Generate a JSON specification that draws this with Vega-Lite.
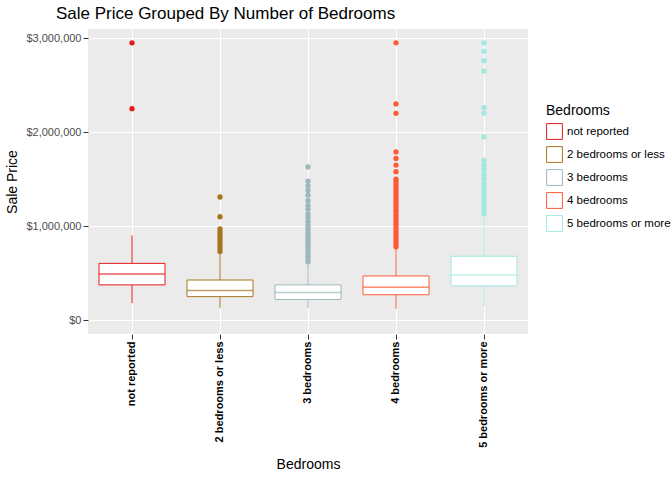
{
"$schema":"https://vega.github.io/schema/vega-lite/v6.json",
"width":440,"height":305,
"padding":{"left":5,"top":5,"right":5,"bottom":5},
"background":"white",
"title":{"text":"Sale Price Grouped By Number of Bedrooms","font":"Liberation Sans","fontSize":17,"fontWeight":"normal","anchor":"start","color":"black","offset":6,"dx":50},
"config":{"view":{"fill":"#EBEBEB","stroke":null},"font":"Liberation Sans",
"axis":{"gridColor":"white","domain":false,"tickColor":"#333333","labelColor":"#4D4D4D","titleFontWeight":"normal","titleFontSize":14,"labelFontSize":11},
"legend":{"titleFontWeight":"normal","titleFontSize":14,"labelFontSize":12,"labelLimit":300}},
"datasets":{
"box":[
{"b":"not reported","lo":180000,"q1":375000,"med":490000,"q3":604000,"hi":900000},
{"b":"2 bedrooms or less","lo":130000,"q1":250000,"med":315000,"q3":427000,"hi":700000},
{"b":"3 bedrooms","lo":130000,"q1":220000,"med":295000,"q3":375000,"hi":600000},
{"b":"4 bedrooms","lo":120000,"q1":270000,"med":350000,"q3":470000,"hi":760000},
{"b":"5 bedrooms or more","lo":150000,"q1":365000,"med":480000,"q3":680000,"hi":1100000}],
"out":[
{"b":"not reported","v":2950000},{"b":"not reported","v":2250000},
{"b":"2 bedrooms or less","v":730000},{"b":"2 bedrooms or less","v":760000},{"b":"2 bedrooms or less","v":790000},{"b":"2 bedrooms or less","v":820000},{"b":"2 bedrooms or less","v":850000},{"b":"2 bedrooms or less","v":880000},{"b":"2 bedrooms or less","v":910000},{"b":"2 bedrooms or less","v":940000},{"b":"2 bedrooms or less","v":970000},{"b":"2 bedrooms or less","v":1100000},{"b":"2 bedrooms or less","v":1310000},
{"b":"3 bedrooms","v":620000},{"b":"3 bedrooms","v":650000},{"b":"3 bedrooms","v":680000},{"b":"3 bedrooms","v":710000},{"b":"3 bedrooms","v":740000},{"b":"3 bedrooms","v":770000},{"b":"3 bedrooms","v":800000},{"b":"3 bedrooms","v":830000},{"b":"3 bedrooms","v":860000},{"b":"3 bedrooms","v":890000},{"b":"3 bedrooms","v":920000},{"b":"3 bedrooms","v":950000},{"b":"3 bedrooms","v":980000},{"b":"3 bedrooms","v":1010000},{"b":"3 bedrooms","v":1050000},{"b":"3 bedrooms","v":1090000},{"b":"3 bedrooms","v":1130000},{"b":"3 bedrooms","v":1180000},{"b":"3 bedrooms","v":1220000},{"b":"3 bedrooms","v":1270000},{"b":"3 bedrooms","v":1330000},{"b":"3 bedrooms","v":1380000},{"b":"3 bedrooms","v":1430000},{"b":"3 bedrooms","v":1480000},{"b":"3 bedrooms","v":1630000},
{"b":"4 bedrooms","v":780000},{"b":"4 bedrooms","v":810000},{"b":"4 bedrooms","v":840000},{"b":"4 bedrooms","v":870000},{"b":"4 bedrooms","v":900000},{"b":"4 bedrooms","v":930000},{"b":"4 bedrooms","v":960000},{"b":"4 bedrooms","v":990000},{"b":"4 bedrooms","v":1020000},{"b":"4 bedrooms","v":1050000},{"b":"4 bedrooms","v":1080000},{"b":"4 bedrooms","v":1110000},{"b":"4 bedrooms","v":1140000},{"b":"4 bedrooms","v":1170000},{"b":"4 bedrooms","v":1200000},{"b":"4 bedrooms","v":1230000},{"b":"4 bedrooms","v":1260000},{"b":"4 bedrooms","v":1290000},{"b":"4 bedrooms","v":1320000},{"b":"4 bedrooms","v":1350000},{"b":"4 bedrooms","v":1380000},{"b":"4 bedrooms","v":1410000},{"b":"4 bedrooms","v":1440000},{"b":"4 bedrooms","v":1470000},{"b":"4 bedrooms","v":1500000},{"b":"4 bedrooms","v":1580000},{"b":"4 bedrooms","v":1650000},{"b":"4 bedrooms","v":1720000},{"b":"4 bedrooms","v":1790000},{"b":"4 bedrooms","v":2200000},{"b":"4 bedrooms","v":2300000},{"b":"4 bedrooms","v":2950000},
{"b":"5 bedrooms or more","v":1130000},{"b":"5 bedrooms or more","v":1170000},{"b":"5 bedrooms or more","v":1210000},{"b":"5 bedrooms or more","v":1250000},{"b":"5 bedrooms or more","v":1290000},{"b":"5 bedrooms or more","v":1330000},{"b":"5 bedrooms or more","v":1370000},{"b":"5 bedrooms or more","v":1410000},{"b":"5 bedrooms or more","v":1450000},{"b":"5 bedrooms or more","v":1500000},{"b":"5 bedrooms or more","v":1550000},{"b":"5 bedrooms or more","v":1600000},{"b":"5 bedrooms or more","v":1650000},{"b":"5 bedrooms or more","v":1700000},{"b":"5 bedrooms or more","v":1950000},{"b":"5 bedrooms or more","v":2200000},{"b":"5 bedrooms or more","v":2260000},{"b":"5 bedrooms or more","v":2650000},{"b":"5 bedrooms or more","v":2760000},{"b":"5 bedrooms or more","v":2860000},{"b":"5 bedrooms or more","v":2950000}]
},
"encoding":{
"x":{"field":"b","type":"nominal","sort":["not reported","2 bedrooms or less","3 bedrooms","4 bedrooms","5 bedrooms or more"],"title":"Bedrooms","axis":{"labelAngle":-90,"labelFontWeight":"bold","labelColor":"black","labelFontSize":11,"grid":true,"titlePadding":10}},
"color":{"field":"b","type":"nominal","sort":["not reported","2 bedrooms or less","3 bedrooms","4 bedrooms","5 bedrooms or more"],"legend":null,"scale":{"range":["#E41A1C","#A6761D","#9AB8BE","#FF5A36","#A0E8E0"]}}
},
"layer":[
{"data":{"name":"box"},"mark":{"type":"rule","strokeWidth":1},"encoding":{"y":{"field":"lo","type":"quantitative","title":"Sale Price","scale":{"domain":[-147500,3097500],"nice":false},"axis":{"values":[0,1000000,2000000,3000000],"format":"$,.0f","titlePadding":6}},"y2":{"field":"hi"}}},
{"data":{"name":"box"},"mark":{"type":"bar","width":{"band":0.75},"fill":"white","strokeWidth":1},"encoding":{"y":{"field":"q1","type":"quantitative"},"y2":{"field":"q3"},"stroke":{"field":"b","type":"nominal","sort":["not reported","2 bedrooms or less","3 bedrooms","4 bedrooms","5 bedrooms or more"],"title":"Bedrooms","scale":{"range":["#E41A1C","#A6761D","#9AB8BE","#FF5A36","#A0E8E0"]},"legend":{"orient":"none","legendX":458,"legendY":75,"symbolType":"square","symbolFillColor":"white","symbolSize":250,"symbolStrokeWidth":1,"labelFontSize":11.5}},"color":{"value":"white"}}},
{"data":{"name":"box"},"mark":{"type":"tick","size":66,"thickness":1.5},"encoding":{"y":{"field":"med","type":"quantitative"}}},
{"data":{"name":"out"},"mark":{"type":"circle","size":28,"opacity":1},"encoding":{"y":{"field":"v","type":"quantitative"}}}
]
}
